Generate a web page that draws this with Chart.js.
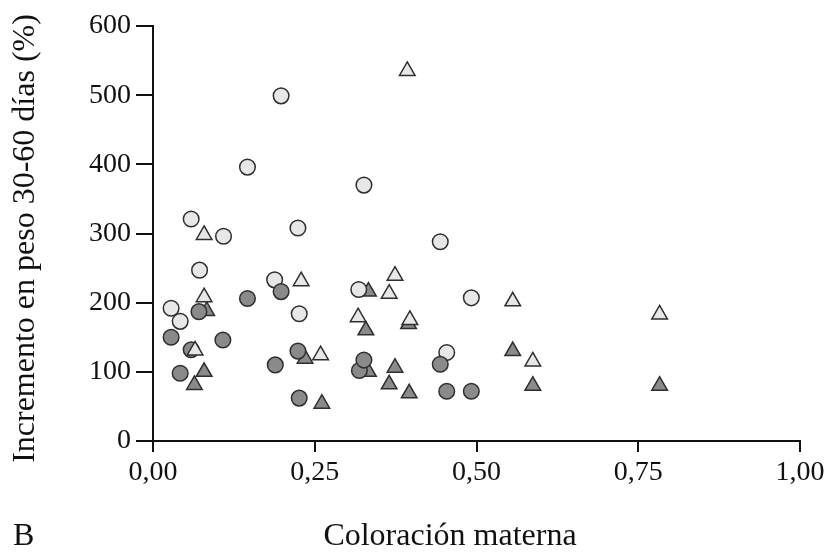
<!DOCTYPE html>
<html>
<head>
<meta charset="utf-8">
<script src="https://cdn.jsdelivr.net/npm/chart.js@4.4.1/dist/chart.umd.min.js"></script>
<style>
  html, body { margin: 0; padding: 0; background: #fff; }
</style>
</head>
<body>
<canvas id="chart" width="840" height="555"></canvas>
<script>
// ---------------- data ----------------
const xTicks = [0, 0.25, 0.5, 0.75, 1];
const yTicks = [0, 100, 200, 300, 400, 500, 600];

const lightCircleX = [0.028, 0.042, 0.059, 0.072, 0.109, 0.146, 0.188, 0.198, 0.224, 0.226, 0.318, 0.326, 0.444, 0.454, 0.492];
const lightCircleY = [192, 173, 321, 247, 296, 396, 233, 499, 308, 184, 219, 370, 288, 128, 207];

const darkCircleX = [0.028, 0.042, 0.059, 0.071, 0.108, 0.146, 0.189, 0.198, 0.224, 0.226, 0.319, 0.326, 0.444, 0.454, 0.492];
const darkCircleY = [150, 98, 132, 187, 146, 206, 110, 216, 130, 62, 102, 117, 111, 72, 72];

const lightTriangleX = [0.065, 0.079, 0.079, 0.229, 0.259, 0.317, 0.365, 0.374, 0.393, 0.397, 0.556, 0.587, 0.783];
const lightTriangleY = [131, 298, 208, 231, 124, 179, 213, 239, 535, 175, 202, 115, 183];

const darkTriangleX = [0.064, 0.079, 0.083, 0.235, 0.261, 0.329, 0.333, 0.333, 0.365, 0.374, 0.395, 0.396, 0.556, 0.587, 0.783];
const darkTriangleY = [81, 100, 188, 119, 54, 160, 216, 100, 82, 106, 169, 69, 130, 80, 80];

const xTitle = "Coloración materna";
const yTitle = "Incremento en peso 30-60 días (%)";
const panelLabel = "B";

// ---------------- helpers ----------------
const toPoints = (xs, ys) => xs.map((x, i) => ({ x: x, y: ys[i] }));
const FONT = '"Liberation Serif", "Times New Roman", serif';
const INK = '#111';

// axis titles and panel letter, placed like the printed figure
const figureLabels = {
  id: 'figureLabels',
  afterDraw(chart) {
    const ctx = chart.ctx;
    const area = chart.chartArea;
    ctx.save();
    ctx.fillStyle = INK;
    ctx.font = '32px ' + FONT;
    ctx.textBaseline = 'middle';
    ctx.textAlign = 'center';
    ctx.fillText(xTitle, 450, 537);
    ctx.textAlign = 'left';
    ctx.fillText(panelLabel, 13, 537);
    ctx.translate(26, (area.top + area.bottom) / 2 + 5);
    ctx.rotate(-Math.PI / 2);
    ctx.textAlign = 'center';
    ctx.fillText(yTitle, 0, 0);
    ctx.restore();
  }
};

function series(label, xs, ys, style, fill, radius) {
  return {
    label: label,
    data: toPoints(xs, ys),
    pointStyle: style,
    pointRadius: radius,
    pointHoverRadius: radius,
    backgroundColor: fill,
    borderColor: '#2e2e2e',
    borderWidth: 1.5,
    clip: false
  };
}

const ctx = document.getElementById('chart').getContext('2d');

new Chart(ctx, {
  type: 'scatter',
  data: {
    datasets: [
      series('Triángulos claros', lightTriangleX, lightTriangleY, 'triangle', '#e6e7e8', 9),
      series('Círculos oscuros', darkCircleX, darkCircleY, 'circle', '#8a8a8a', 7.8),
      series('Círculos claros', lightCircleX, lightCircleY, 'circle', '#e6e7e8', 7.8),
      series('Triángulos oscuros', darkTriangleX, darkTriangleY, 'triangle', '#8a8a8a', 9)
    ]
  },
  options: {
    responsive: false,
    animation: false,
    devicePixelRatio: 1,
    layout: { padding: { top: 26, right: 40, left: 0, bottom: 0 } },
    plugins: {
      legend: { display: false },
      tooltip: { enabled: false }
    },
    scales: {
      x: {
        type: 'linear',
        min: 0,
        max: 1,
        afterBuildTicks: (scale) => { scale.ticks = xTicks.map(v => ({ value: v })); },
        afterFit: (scale) => { scale.height = 114; },
        ticks: {
          color: INK,
          font: { family: FONT, size: 28 },
          padding: 4,
          maxRotation: 0,
          callback: (v) => v.toFixed(2).replace('.', ',')
        },
        grid: { drawOnChartArea: false, drawTicks: true, tickLength: 11, color: INK, lineWidth: 2 },
        border: { display: true, color: INK, width: 2 }
      },
      y: {
        type: 'linear',
        min: 0,
        max: 600,
        afterBuildTicks: (scale) => { scale.ticks = yTicks.map(v => ({ value: v })); },
        afterFit: (scale) => { scale.width = 153; },
        ticks: {
          color: INK,
          font: { family: FONT, size: 28 },
          padding: 5
        },
        grid: { drawOnChartArea: false, drawTicks: true, tickLength: 17, color: INK, lineWidth: 2 },
        border: { display: true, color: INK, width: 2 }
      }
    }
  },
  plugins: [figureLabels]
});
</script>
</body>
</html>
